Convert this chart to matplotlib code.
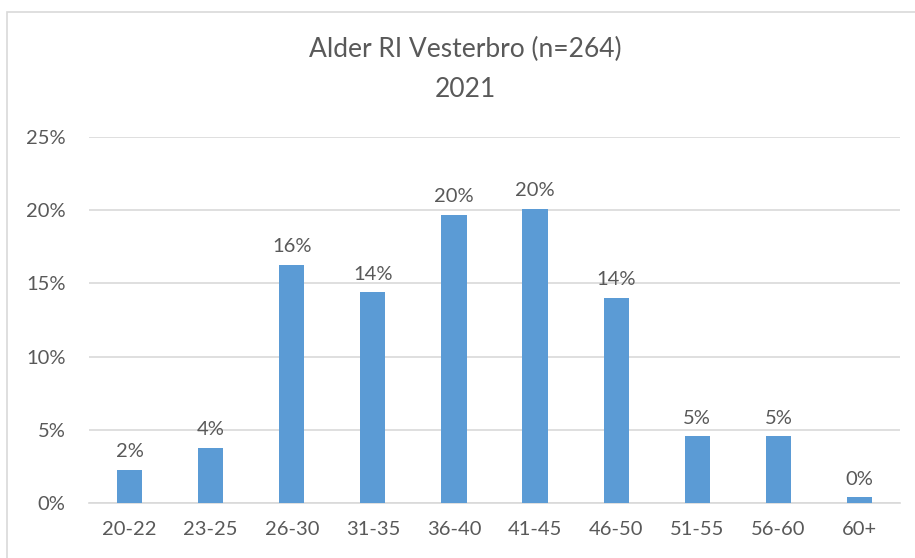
import numpy as np
import matplotlib
matplotlib.use("Agg")
import matplotlib.pyplot as plt
from matplotlib.patches import Rectangle

# age groups and counts (n=264)
categories = ["20-22", "23-25", "26-30", "31-35", "36-40", "41-45", "46-50", "51-55", "56-60", "60+"]
counts = [6, 10, 43, 38, 52, 53, 37, 12, 12, 1]
n_total = 264
shares = [c / n_total for c in counts]
y_ticks = [0, 0.05, 0.10, 0.15, 0.20, 0.25]

bar_color = "#5b9bd5"
text_color = "#595959"
grid_color = "#d9d9d9"

plt.rcParams["font.family"] = ["Lato", "DejaVu Sans"]

fig = plt.figure(figsize=(9.15, 5.58), dpi=100)
ax = fig.add_axes([89 / 915, 1 - 503 / 558, (900 - 89) / 915, (503 - 137) / 558])

x = np.arange(len(categories))
bars = ax.bar(x, shares, width=0.31, color=bar_color, zorder=3)

for xi, s in zip(x, shares):
    ax.annotate("{:.0f}%".format(s * 100), (xi, s), xytext=(0, 7), textcoords="offset points",
                ha="center", va="bottom", fontsize=14.5, color=text_color)

ax.set_xlim(-0.5, len(categories) - 0.5)
ax.set_ylim(0, 0.25)
ax.set_yticks(y_ticks)
ax.set_yticklabels(["{:.0f}%".format(t * 100) for t in y_ticks])
ax.set_xticks(x)
ax.set_xticklabels(categories)
ax.tick_params(axis="both", length=0, labelsize=14.5, labelcolor=text_color)
ax.tick_params(axis="x", pad=13)
ax.tick_params(axis="y", pad=17)
ax.yaxis.grid(True, color=grid_color, linewidth=1.2, zorder=0)
for side in ["top", "right", "left"]:
    ax.spines[side].set_visible(False)
ax.spines["bottom"].set_color(grid_color)
ax.spines["bottom"].set_linewidth(1.2)

fig.text(465 / 915, 1 - 69 / 558, "Alder RI Vesterbro (n=264)\n2021", ha="center", va="center",
         fontsize=19, color=text_color, linespacing=1.75)

# chart border
fig.patches.append(Rectangle((7 / 915, -0.1), 1.0, 1 - 12 / 558 + 0.1, transform=fig.transFigure,
                             fill=False, edgecolor=grid_color, linewidth=1.2))

fig.savefig("out.png", dpi=100)
